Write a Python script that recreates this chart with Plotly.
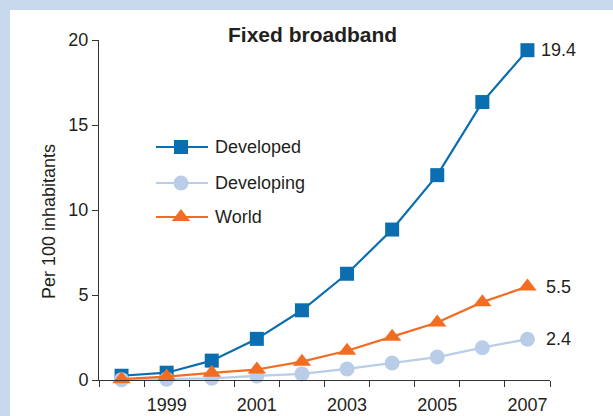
import plotly.graph_objects as go

years = [1998, 1999, 2000, 2001, 2002, 2003, 2004, 2005, 2006, 2007]
developed = [0.25, 0.43, 1.14, 2.42, 4.1, 6.25, 8.85, 12.05, 16.35, 19.4]
developing = [0.02, 0.05, 0.1, 0.24, 0.36, 0.65, 1.0, 1.35, 1.9, 2.4]
world = [0.05, 0.2, 0.42, 0.62, 1.08, 1.72, 2.55, 3.38, 4.58, 5.5]
series_names = ["Developed", "Developing", "World"]
end_labels = ["19.4", "2.4", "5.5"]
x_tick_years = [1999, 2001, 2003, 2005, 2007]
y_ticks = [0, 5, 10, 15, 20]

C_DEV = "#0a6eb0"
C_DEVING = "#b9cde8"
C_WORLD = "#f26d21"
TXT = "#231f20"
FONT = "Liberation Sans, Arial, sans-serif"
FS = 18

fig = go.Figure()

specs = [
    (series_names[0], developed, C_DEV, "square", 14),
    (series_names[1], developing, C_DEVING, "circle", 15),
    (series_names[2], world, C_WORLD, "triangle-up", 16),
]
for name, vals, col, sym, sz in specs:
    fig.add_trace(go.Scatter(
        x=years, y=vals, name=name, mode="lines+markers",
        line=dict(color=col, width=2.2),
        marker=dict(symbol=sym, size=sz, color=col),
        cliponaxis=False, showlegend=False,
    ))

# empty trace to anchor the label axis
fig.add_trace(go.Scatter(x=[], y=[], xaxis="x3", yaxis="y", showlegend=False,
                         hoverinfo="skip"))

# end labels
for (name, vals, col, sym, sz), lab, xs in zip(specs, end_labels, [12, 17, 17]):
    fig.add_annotation(x=years[-1], y=vals[-1], text=lab, showarrow=False,
                       xanchor="left", xshift=xs, font=dict(size=FS, color=TXT, family=FONT))

# manual legend on pixel-space overlay axes
leg_rows = [147, 183, 217]
for (name, vals, col, sym, sz), yp in zip(specs, leg_rows):
    fig.add_trace(go.Scatter(
        x=[156, 208], y=[yp, yp], mode="lines", line=dict(color=col, width=2.2),
        xaxis="x2", yaxis="y2", showlegend=False, hoverinfo="skip", cliponaxis=False))
    fig.add_trace(go.Scatter(
        x=[181], y=[yp], mode="markers", marker=dict(symbol=sym, size=sz, color=col),
        xaxis="x2", yaxis="y2", showlegend=False, hoverinfo="skip", cliponaxis=False))
    fig.add_annotation(x=213, y=yp, xref="x2", yref="y2", text=name, showarrow=False,
                       xanchor="left", yanchor="middle",
                       font=dict(size=FS, color=TXT, family=FONT))

L, R, T, B = 99, 63, 40, 36
W, H = 613, 416
pw, ph = W - L - R, H - T - B
boundaries = [y - 0.5 for y in years] + [years[-1] + 0.5]

fig.update_layout(
    width=W, height=H,
    margin=dict(l=L, r=R, t=T, b=B, autoexpand=False),
    paper_bgcolor="#c8d8ec",
    plot_bgcolor="rgba(0,0,0,0)",
    font=dict(family=FONT, size=FS, color=TXT),
    xaxis=dict(range=[1997.5, 2007.5], tickvals=boundaries, showticklabels=False,
               automargin=False, showgrid=False, zeroline=False, showline=True,
               linecolor="#333", linewidth=1, ticks="outside", ticklen=6,
               tickcolor="#333"),
    xaxis3=dict(range=[1997.5, 2007.5], overlaying="x", anchor="y", side="bottom",
                tickvals=x_tick_years, ticktext=[str(v) for v in x_tick_years],
                automargin=False, showgrid=False, zeroline=False, showline=False,
                ticks="outside", ticklen=8, tickcolor="rgba(0,0,0,0)",
                tickfont=dict(size=FS, color=TXT), fixedrange=True),
    yaxis=dict(range=[0, 20], tickvals=y_ticks, showgrid=False, zeroline=False,
               automargin=False,
               showline=True, linecolor="#333", linewidth=1, ticks="outside",
               ticklen=6, tickcolor="#333", tickfont=dict(size=FS, color=TXT)),
    xaxis2=dict(range=[L, L + pw], domain=[0, 1], overlaying="x", visible=False,
                fixedrange=True, automargin=False),
    yaxis2=dict(range=[T + ph, T], domain=[0, 1], overlaying="y", visible=False,
                fixedrange=True, automargin=False),
)

# white panel
fig.add_shape(type="rect", xref="paper", yref="paper", layer="below",
              x0=(10 - L) / pw, x1=(W + 5 - L) / pw,
              y0=-(B + 5) / ph, y1=(H - B - 10) / ph,
              fillcolor="white", line=dict(width=0))

fig.add_annotation(text="<b>Fixed broadband</b>", xref="paper", yref="paper",
                   x=(312 - L) / pw, y=(H - B - 34) / ph, showarrow=False,
                   xanchor="center", yanchor="middle",
                   font=dict(size=21, color=TXT, family=FONT))

fig.add_annotation(text="Per 100 inhabitants", xref="paper", yref="paper",
                   x=(49 - L) / pw, y=(H - B - 222) / ph, showarrow=False,
                   textangle=-90, xanchor="center", yanchor="middle",
                   font=dict(size=FS, color=TXT, family=FONT))

fig.write_html("out.html", config={"displayModeBar": False},
               post_script="document.body.style.margin='0';document.body.style.padding='0';")
